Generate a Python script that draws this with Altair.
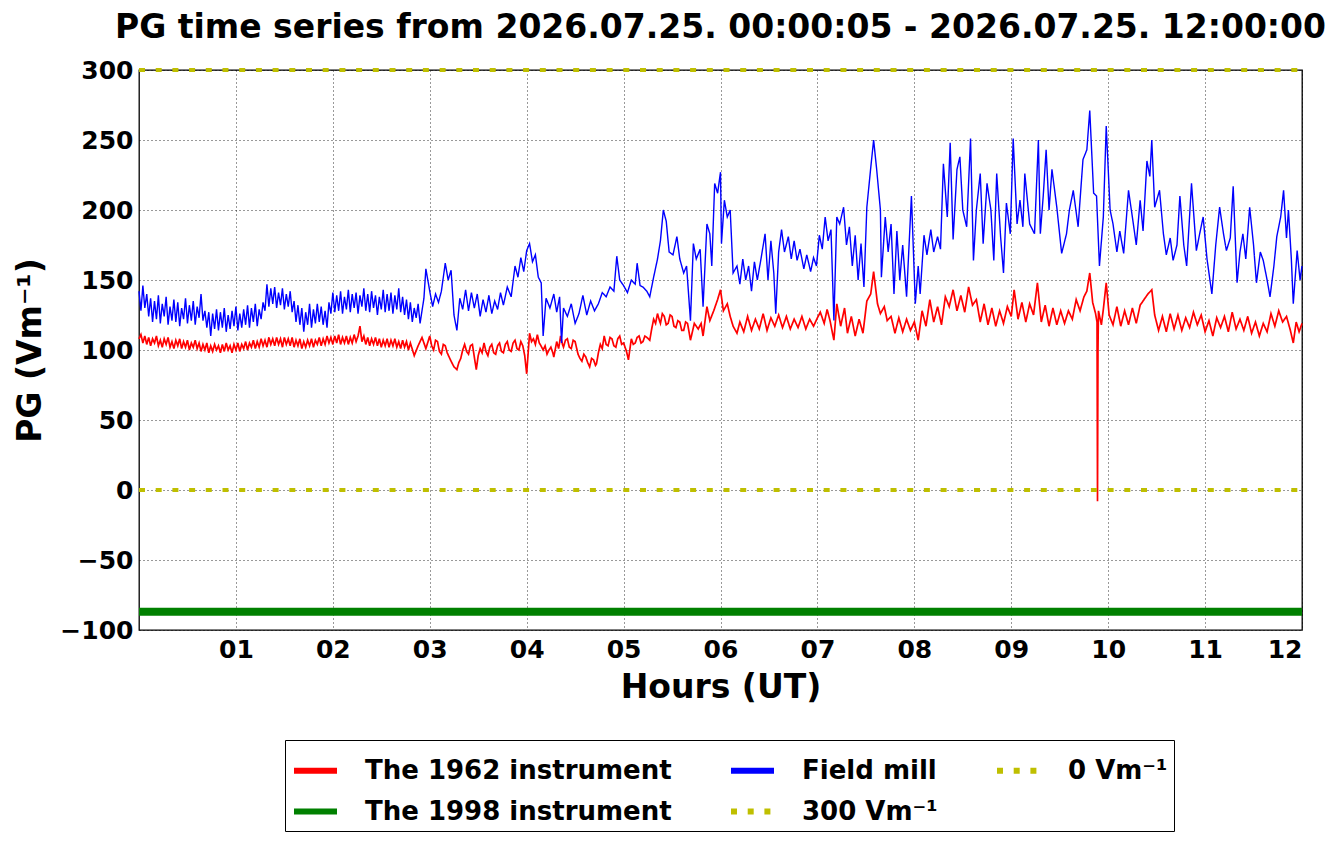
import altair as alt
import pandas as pd

TITLE = "PG time series from 2026.07.25. 00:00:05 - 2026.07.25. 12:00:00"

# legend fills column by column: (1962, 1998) (Field mill, 300) (0)
series_order = ["The 1962 instrument", "The 1998 instrument", "Field mill", "300 Vm⁻¹", "0 Vm⁻¹"]
series_colors = ["#ff0000", "#008000", "#0000ff", "#bfbf00", "#bfbf00"]
series_dash = [[1, 0], [1, 0], [1, 0], [6, 10.7], [6, 10.7]]

x_ticks = [1, 2, 3, 4, 5, 6, 7, 8, 9, 10, 11, 12]
y_ticks = [-100, -50, 0, 50, 100, 150, 200, 250, 300]

# (hour, PG)
red_points = [
    (0.00, 108), (0.02, 111), (0.04, 105), (0.06, 110), (0.08, 104), (0.10, 109), (0.12, 103),
    (0.14, 108), (0.16, 105), (0.18, 110), (0.20, 103), (0.22, 107), (0.24, 102), (0.26, 108),
    (0.28, 104), (0.30, 109), (0.32, 102), (0.34, 106), (0.36, 101), (0.38, 107), (0.40, 103),
    (0.42, 108), (0.44, 101), (0.46, 106), (0.48, 102), (0.50, 107), (0.52, 100), (0.54, 105),
    (0.56, 102), (0.58, 107), (0.60, 101), (0.62, 105), (0.64, 99), (0.66, 104), (0.68, 100),
    (0.70, 105), (0.72, 98), (0.74, 103), (0.76, 99), (0.78, 104), (0.80, 100), (0.82, 103),
    (0.84, 98), (0.86, 104), (0.88, 99), (0.90, 105), (0.92, 100), (0.94, 103), (0.96, 98),
    (0.98, 104), (1.00, 100), (1.02, 105), (1.04, 99), (1.06, 104), (1.08, 101), (1.10, 106),
    (1.12, 100), (1.14, 105), (1.16, 102), (1.18, 107), (1.20, 101), (1.22, 106), (1.24, 102),
    (1.26, 108), (1.28, 103), (1.30, 107), (1.32, 102), (1.34, 109), (1.36, 104), (1.38, 108),
    (1.40, 103), (1.42, 109), (1.44, 104), (1.46, 108), (1.48, 102), (1.50, 109), (1.52, 104),
    (1.54, 108), (1.56, 103), (1.58, 109), (1.60, 102), (1.62, 107), (1.64, 103), (1.66, 108),
    (1.68, 101), (1.70, 106), (1.72, 102), (1.74, 107), (1.76, 103), (1.78, 108), (1.80, 102),
    (1.82, 107), (1.84, 104), (1.86, 109), (1.88, 103), (1.90, 108), (1.92, 104), (1.94, 110),
    (1.96, 105), (1.98, 109), (2.00, 104), (2.02, 110), (2.04, 105), (2.06, 111), (2.08, 104),
    (2.10, 109), (2.12, 105), (2.14, 110), (2.16, 104), (2.18, 109), (2.20, 105), (2.22, 111),
    (2.24, 106), (2.26, 110), (2.28, 117), (2.30, 106), (2.32, 110), (2.34, 104), (2.36, 109),
    (2.38, 103), (2.40, 108), (2.42, 104), (2.44, 109), (2.46, 103), (2.48, 108), (2.50, 102),
    (2.52, 107), (2.54, 103), (2.56, 108), (2.58, 102), (2.60, 107), (2.62, 103), (2.64, 108),
    (2.66, 102), (2.68, 106), (2.70, 101), (2.72, 107), (2.74, 102), (2.76, 106), (2.78, 100),
    (2.80, 105), (2.84, 96), (2.88, 103), (2.92, 109), (2.96, 101), (3.00, 110), (3.02, 103),
    (3.04, 100), (3.06, 107), (3.08, 106), (3.10, 99), (3.12, 97), (3.14, 104), (3.16, 103),
    (3.18, 98), (3.20, 95), (3.22, 92), (3.25, 88), (3.28, 86), (3.30, 91), (3.32, 94),
    (3.34, 100), (3.36, 104), (3.38, 99), (3.40, 97), (3.42, 103), (3.44, 104), (3.46, 95),
    (3.48, 86), (3.50, 96), (3.52, 101), (3.54, 98), (3.56, 105), (3.58, 99), (3.60, 96),
    (3.62, 102), (3.64, 104), (3.66, 98), (3.68, 97), (3.70, 103), (3.72, 105), (3.74, 99),
    (3.76, 98), (3.78, 104), (3.80, 106), (3.82, 100), (3.84, 99), (3.86, 105), (3.88, 107),
    (3.90, 101), (3.92, 100), (3.94, 106), (3.96, 103), (3.98, 96), (4.00, 83), (4.03, 112),
    (4.05, 106), (4.07, 108), (4.09, 104), (4.11, 111), (4.13, 105), (4.14, 104), (4.17, 100),
    (4.19, 103), (4.21, 97), (4.23, 100), (4.25, 102), (4.27, 98), (4.28, 95), (4.31, 106),
    (4.33, 101), (4.35, 110), (4.37, 104), (4.38, 102), (4.40, 107), (4.42, 108), (4.44, 102),
    (4.46, 101), (4.48, 107), (4.50, 106), (4.52, 100), (4.53, 97), (4.55, 94), (4.57, 92),
    (4.59, 97), (4.61, 95), (4.63, 91), (4.65, 88), (4.67, 94), (4.69, 93), (4.71, 89),
    (4.72, 90), (4.74, 98), (4.76, 104), (4.78, 101), (4.80, 110), (4.82, 104), (4.84, 103),
    (4.86, 109), (4.88, 108), (4.90, 103), (4.92, 102), (4.94, 108), (4.96, 110), (4.98, 104),
    (5.00, 105), (5.03, 99), (5.05, 93), (5.08, 108), (5.10, 104), (5.12, 105), (5.14, 109),
    (5.16, 110), (5.18, 105), (5.20, 106), (5.22, 110), (5.24, 109), (5.27, 107), (5.29, 115),
    (5.31, 122), (5.33, 119), (5.35, 126), (5.37, 121), (5.38, 119), (5.40, 126), (5.42, 124),
    (5.44, 118), (5.46, 119), (5.48, 125), (5.50, 124), (5.52, 117), (5.54, 116), (5.56, 121),
    (5.58, 120), (5.60, 114), (5.62, 114), (5.64, 120), (5.66, 119), (5.69, 107), (5.73, 119),
    (5.77, 115), (5.80, 119), (5.82, 110), (5.86, 131), (5.89, 121), (5.93, 128), (5.97, 136),
    (6.00, 143), (6.03, 128), (6.07, 133), (6.10, 124), (6.13, 117), (6.17, 112), (6.20, 120),
    (6.24, 113), (6.28, 124), (6.32, 114), (6.36, 122), (6.40, 115), (6.44, 126), (6.48, 114),
    (6.52, 123), (6.56, 117), (6.60, 125), (6.64, 116), (6.68, 124), (6.72, 115), (6.76, 122),
    (6.80, 116), (6.84, 124), (6.88, 115), (6.92, 122), (6.96, 117), (7.00, 123), (7.03, 127),
    (7.07, 119), (7.10, 129), (7.13, 121), (7.17, 107), (7.20, 133), (7.24, 117), (7.28, 130),
    (7.31, 112), (7.35, 124), (7.39, 110), (7.43, 122), (7.47, 112), (7.51, 135), (7.55, 140),
    (7.58, 156), (7.62, 133), (7.65, 126), (7.69, 131), (7.72, 121), (7.76, 124), (7.80, 112),
    (7.84, 123), (7.88, 113), (7.92, 122), (7.96, 114), (8.00, 120), (8.04, 107), (8.08, 128),
    (8.12, 117), (8.16, 136), (8.20, 120), (8.24, 131), (8.28, 118), (8.32, 138), (8.36, 131),
    (8.40, 143), (8.44, 128), (8.48, 139), (8.52, 127), (8.56, 145), (8.60, 132), (8.64, 136),
    (8.68, 120), (8.72, 133), (8.76, 118), (8.80, 130), (8.84, 117), (8.88, 128), (8.92, 119),
    (8.96, 131), (9.00, 124), (9.03, 143), (9.07, 122), (9.11, 134), (9.15, 120), (9.19, 133),
    (9.23, 125), (9.27, 148), (9.31, 120), (9.35, 132), (9.39, 117), (9.43, 130), (9.47, 118),
    (9.51, 128), (9.55, 119), (9.59, 128), (9.63, 122), (9.67, 136), (9.71, 128), (9.75, 138),
    (9.78, 142), (9.81, 155), (9.84, 134), (9.87, 126), (9.885, 120), (9.89, -8), (9.895, 100),
    (9.90, 128), (9.93, 118), (9.95, 129), (9.98, 148), (10.01, 125), (10.05, 118), (10.09, 131),
    (10.13, 117), (10.17, 128), (10.21, 118), (10.25, 130), (10.29, 119), (10.33, 132), (10.37, 136),
    (10.41, 140), (10.45, 143), (10.48, 125), (10.52, 114), (10.56, 124), (10.60, 113), (10.64, 126),
    (10.68, 115), (10.72, 125), (10.76, 114), (10.80, 123), (10.84, 116), (10.88, 127), (10.92, 118),
    (10.96, 125), (11.00, 113), (11.04, 121), (11.08, 110), (11.12, 123), (11.16, 116), (11.20, 124),
    (11.24, 113), (11.28, 127), (11.32, 115), (11.36, 122), (11.40, 114), (11.44, 124), (11.48, 112),
    (11.52, 120), (11.56, 110), (11.60, 119), (11.64, 113), (11.68, 126), (11.72, 117), (11.76, 128),
    (11.80, 120), (11.84, 124), (11.88, 114), (11.91, 105), (11.94, 120), (11.97, 113), (12.00, 119),
]

blue_points = [
    (0.00, 142), (0.02, 128), (0.04, 146), (0.06, 130), (0.08, 140), (0.10, 124), (0.12, 137),
    (0.14, 120), (0.16, 135), (0.18, 122), (0.20, 139), (0.22, 119), (0.24, 133), (0.26, 124),
    (0.28, 138), (0.30, 118), (0.32, 131), (0.34, 121), (0.36, 136), (0.38, 120), (0.40, 134),
    (0.42, 117), (0.44, 130), (0.46, 122), (0.48, 137), (0.50, 119), (0.52, 132), (0.54, 121),
    (0.56, 135), (0.58, 118), (0.60, 131), (0.62, 123), (0.64, 140), (0.66, 121), (0.68, 128),
    (0.70, 116), (0.72, 127), (0.74, 110), (0.76, 126), (0.78, 115), (0.80, 129), (0.82, 114),
    (0.84, 127), (0.86, 116), (0.88, 130), (0.90, 113), (0.92, 125), (0.94, 115), (0.96, 128),
    (0.98, 117), (1.00, 131), (1.02, 114), (1.04, 126), (1.06, 116), (1.08, 129), (1.10, 118),
    (1.12, 132), (1.14, 116), (1.16, 130), (1.18, 120), (1.20, 133), (1.22, 117), (1.24, 129),
    (1.26, 122), (1.28, 134), (1.30, 128), (1.32, 147), (1.34, 131), (1.36, 144), (1.38, 133),
    (1.40, 145), (1.42, 130), (1.44, 141), (1.46, 132), (1.48, 144), (1.50, 129), (1.52, 140),
    (1.54, 131), (1.56, 142), (1.58, 127), (1.60, 135), (1.62, 120), (1.64, 132), (1.66, 118),
    (1.68, 130), (1.70, 113), (1.72, 127), (1.74, 118), (1.76, 133), (1.78, 116), (1.80, 129),
    (1.82, 119), (1.84, 133), (1.86, 120), (1.88, 131), (1.90, 118), (1.92, 128), (1.94, 116),
    (1.96, 134), (1.98, 126), (2.00, 141), (2.02, 127), (2.04, 139), (2.06, 128), (2.08, 142),
    (2.10, 126), (2.12, 138), (2.14, 129), (2.16, 143), (2.18, 127), (2.20, 140), (2.22, 130),
    (2.24, 141), (2.26, 126), (2.28, 139), (2.30, 131), (2.32, 144), (2.34, 128), (2.36, 140),
    (2.38, 127), (2.40, 142), (2.42, 130), (2.44, 139), (2.46, 125), (2.48, 138), (2.50, 129),
    (2.52, 143), (2.54, 127), (2.56, 140), (2.58, 128), (2.60, 141), (2.62, 126), (2.64, 139),
    (2.66, 129), (2.68, 144), (2.70, 127), (2.72, 138), (2.74, 125), (2.76, 136), (2.78, 122),
    (2.80, 134), (2.82, 120), (2.84, 130), (2.86, 123), (2.88, 133), (2.90, 119), (2.92, 128),
    (2.94, 137), (2.96, 158), (3.00, 142), (3.03, 131), (3.06, 140), (3.09, 134), (3.12, 142),
    (3.16, 162), (3.19, 150), (3.22, 157), (3.25, 125), (3.28, 114), (3.31, 137), (3.34, 129),
    (3.37, 143), (3.40, 128), (3.43, 141), (3.46, 130), (3.49, 140), (3.52, 124), (3.55, 136),
    (3.58, 127), (3.61, 139), (3.64, 126), (3.67, 135), (3.70, 129), (3.73, 141), (3.76, 132),
    (3.80, 145), (3.84, 138), (3.88, 160), (3.91, 152), (3.94, 166), (3.97, 156), (4.00, 171),
    (4.03, 176), (4.06, 163), (4.09, 168), (4.12, 152), (4.15, 148), (4.17, 110), (4.20, 137),
    (4.24, 130), (4.28, 140), (4.31, 127), (4.34, 138), (4.36, 105), (4.38, 130), (4.42, 124),
    (4.46, 133), (4.50, 119), (4.54, 126), (4.58, 139), (4.62, 125), (4.66, 135), (4.70, 128),
    (4.74, 133), (4.78, 141), (4.82, 138), (4.86, 145), (4.90, 142), (4.93, 167), (4.96, 150),
    (5.00, 146), (5.04, 141), (5.08, 150), (5.12, 147), (5.14, 162), (5.17, 146), (5.20, 145),
    (5.24, 142), (5.27, 138), (5.31, 152), (5.35, 165), (5.38, 178), (5.41, 200), (5.44, 192),
    (5.47, 170), (5.51, 168), (5.55, 181), (5.58, 165), (5.62, 155), (5.65, 160), (5.69, 121),
    (5.72, 176), (5.75, 165), (5.79, 172), (5.82, 131), (5.86, 190), (5.89, 183), (5.91, 160),
    (5.94, 219), (5.97, 212), (6.00, 227), (6.01, 176), (6.04, 207), (6.07, 195), (6.10, 200),
    (6.13, 155), (6.17, 160), (6.20, 147), (6.23, 165), (6.26, 150), (6.29, 160), (6.32, 142),
    (6.35, 163), (6.38, 150), (6.42, 166), (6.46, 183), (6.49, 150), (6.52, 178), (6.55, 155),
    (6.57, 126), (6.60, 170), (6.63, 186), (6.66, 170), (6.70, 181), (6.73, 165), (6.76, 178),
    (6.79, 164), (6.82, 172), (6.86, 158), (6.89, 168), (6.93, 156), (6.96, 166), (6.99, 160),
    (7.02, 182), (7.05, 172), (7.08, 195), (7.11, 178), (7.14, 186), (7.17, 121), (7.20, 195),
    (7.23, 190), (7.27, 202), (7.30, 175), (7.33, 188), (7.36, 160), (7.39, 182), (7.42, 150),
    (7.45, 176), (7.48, 145), (7.51, 202), (7.55, 230), (7.58, 250), (7.61, 230), (7.65, 200),
    (7.66, 152), (7.70, 195), (7.73, 170), (7.76, 190), (7.79, 140), (7.82, 185), (7.85, 150),
    (7.88, 175), (7.92, 138), (7.97, 210), (8.01, 133), (8.04, 160), (8.06, 140), (8.10, 182),
    (8.13, 168), (8.17, 186), (8.20, 170), (8.24, 181), (8.27, 172), (8.30, 233), (8.34, 195),
    (8.37, 248), (8.40, 179), (8.44, 229), (8.47, 238), (8.50, 200), (8.54, 188), (8.58, 251),
    (8.61, 164), (8.64, 200), (8.68, 226), (8.71, 176), (8.75, 219), (8.79, 200), (8.82, 164),
    (8.85, 226), (8.89, 181), (8.92, 155), (8.95, 205), (8.99, 183), (9.02, 251), (9.06, 190),
    (9.09, 207), (9.12, 188), (9.14, 226), (9.19, 190), (9.24, 183), (9.28, 250), (9.30, 183),
    (9.33, 210), (9.36, 243), (9.39, 200), (9.42, 229), (9.47, 202), (9.52, 169), (9.57, 183),
    (9.60, 200), (9.64, 214), (9.69, 188), (9.74, 236), (9.78, 243), (9.81, 271), (9.85, 212),
    (9.88, 210), (9.91, 160), (9.95, 195), (9.98, 260), (10.02, 200), (10.05, 190), (10.09, 170),
    (10.12, 185), (10.16, 169), (10.21, 214), (10.26, 190), (10.29, 175), (10.33, 207), (10.36, 185),
    (10.40, 235), (10.43, 224), (10.45, 250), (10.48, 202), (10.53, 214), (10.57, 183), (10.60, 168),
    (10.64, 180), (10.67, 164), (10.71, 175), (10.74, 210), (10.78, 175), (10.81, 160), (10.86, 219),
    (10.91, 171), (10.95, 185), (10.98, 195), (11.02, 165), (11.07, 140), (11.11, 175), (11.15, 202),
    (11.19, 183), (11.22, 171), (11.26, 180), (11.29, 217), (11.33, 148), (11.36, 170), (11.39, 183),
    (11.42, 165), (11.46, 202), (11.50, 175), (11.53, 148), (11.57, 170), (11.60, 164), (11.64, 150),
    (11.67, 138), (11.71, 160), (11.74, 181), (11.78, 195), (11.81, 214), (11.84, 180), (11.86, 200),
    (11.89, 165), (11.91, 133), (11.95, 171), (11.98, 150), (12.00, 160),
]

green_hours = [0, 12]
green_pg = [-87, -87]
zero_hours = [0, 12]
zero_pg = [0, 0]
top_hours = [0, 12]
top_pg = [300, 300]


def frame(points, name):
    return pd.DataFrame({"hour": [p[0] for p in points], "pg": [p[1] for p in points], "series": name})


df_red = frame(red_points, "The 1962 instrument")
df_blue = frame(blue_points, "Field mill")
df_green = pd.DataFrame({"hour": green_hours, "pg": green_pg, "series": "The 1998 instrument"})
df_top = pd.DataFrame({"hour": top_hours, "pg": top_pg, "series": "300 Vm⁻¹"})
df_zero = pd.DataFrame({"hour": zero_hours, "pg": zero_pg, "series": "0 Vm⁻¹"})

legend = alt.Legend(
    title=None, orient="none", legendX=146, legendY=670, columns=3, columnPadding=47,
    rowPadding=3, symbolType="stroke", symbolSize=1849, symbolStrokeWidth=6,
    labelFont="DejaVu Sans", labelFontSize=26, labelFontWeight="bold", labelColor="black",
    labelOffset=25, labelLimit=500, strokeColor="black", fillColor="white", padding=6,
    gridAlign="each",
)

x_enc = alt.X("hour:Q", scale=alt.Scale(domain=[0, 12], nice=False, zero=False),
              axis=alt.Axis(values=x_ticks, title="Hours (UT)",
                            labelExpr="datum.value < 10 ? '0' + datum.value : '' + datum.value",
                            labelPadding=7, titlePadding=9))
y_enc = alt.Y("pg:Q", scale=alt.Scale(domain=[-100, 300], nice=False, zero=False),
              axis=alt.Axis(values=y_ticks, title="PG (Vm⁻¹)", labelPadding=6, titlePadding=12))
color_enc = alt.Color("series:N", scale=alt.Scale(domain=series_order, range=series_colors), legend=legend)
dash_enc = alt.StrokeDash("series:N", scale=alt.Scale(domain=series_order, range=series_dash), legend=legend)


def layer(df, width):
    return alt.Chart(df).mark_line(strokeWidth=width, strokeCap="butt").encode(
        x=x_enc, y=y_enc, color=color_enc, strokeDash=dash_enc
    )


chart = alt.layer(
    layer(df_red, 1.7),
    layer(df_green, 8),
    layer(df_blue, 1.4),
    layer(df_top, 4),
    layer(df_zero, 4),
).properties(
    width=1163, height=560,
    padding={"left": 131, "top": 62, "right": 32, "bottom": 202},
    autosize=alt.AutoSizeParams(type="none"),
    background="white",
    title=alt.TitleParams(text=TITLE, font="DejaVu Sans", fontSize=33, fontWeight="bold",
                          color="black", anchor="middle", frame="group", baseline="alphabetic",
                          offset=6, dy=19),
).configure_view(
    stroke="black", strokeWidth=1.3
).configure_axis(
    labelFont="DejaVu Sans", labelFontSize=25, labelFontWeight="bold", labelColor="black",
    titleFont="DejaVu Sans", titleFontSize=33, titleFontWeight="bold", titleColor="black",
    grid=True, gridColor="black", gridDash=[1, 3], gridOpacity=0.8, gridWidth=1,
    domain=False, ticks=False,
)

chart.save("out.html", embed_options={"renderer": "svg", "actions": False})
